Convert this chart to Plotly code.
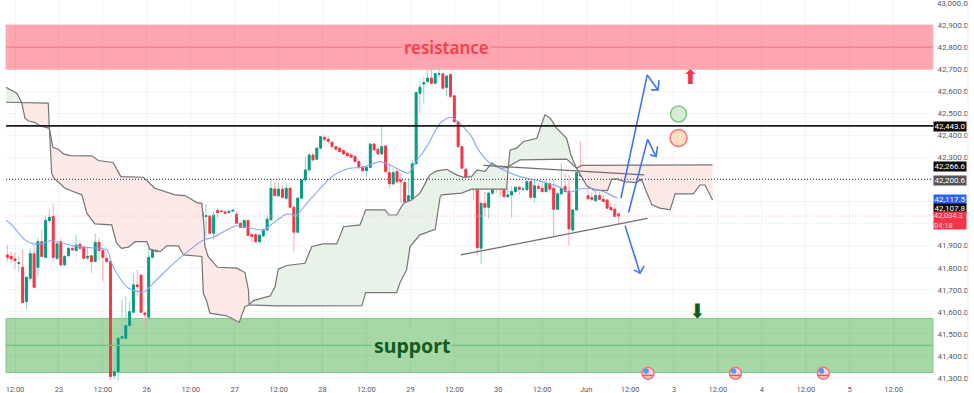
import plotly.graph_objects as go
import numpy as np

bar_index = list(range(-2, 159))
opens = [41858,41851,41840,41820,41802,41647,41752,41863,41802,41918,41847,42014,42032,41843,41918,41813,41854,41888,41878,41906,41893,41844,41854,41828,41915,41878,41843,
41828,41310,41329,41480,41480,41538,41598,41722,41767,41594,41576,41847,41888,41893,41937,41914,41964,41986,41941,42006,42062,42020,42020,42020,42050,42032,42035,41956,
42059,42057,42053,42050,42057,42042,42002,41983,42014,41950,41950,41918,41944,41971,42017,42157,42126,42156,42115,42160,42074,41961,42115,42198,42243,42311,42292,42342,
42390,42382,42369,42349,42342,42331,42319,42311,42304,42281,42255,42240,42255,42361,42337,42316,42352,42231,42180,42236,42198,42186,42104,42110,42271,42591,42633,42644,
42659,42636,42677,42679,42618,42676,42579,42462,42349,42246,42195,42180,42156,41888,42092,42074,42138,42195,42171,42156,42122,42130,42145,42165,42156,42153,42190,42119,
42168,42160,42145,42180,42160,42065,42135,42168,42148,41971,42062,42228,42221,42126,42118,42104,42127,42110,42107,42073,42065,42044]
highs = [41903,41873,41869,41851,41884,41757,41888,41903,41934,41971,42039,42062,42089,41918,41934,41858,41896,41899,41949,41918,41896,41896,41854,41956,41934,41885,41858,
41835,41427,41533,41654,41669,41647,41775,41790,41767,41598,41964,41934,41949,41949,41956,41971,41994,41994,42017,42077,42092,42055,42052,42060,42092,42089,42035,42055,
42070,42062,42059,42062,42065,42057,42005,42017,42017,41956,41956,41956,41979,42039,42206,42190,42190,42175,42186,42165,42080,42122,42201,42304,42319,42319,42346,42397,
42402,42397,42372,42352,42346,42334,42322,42319,42311,42286,42258,42261,42364,42364,42346,42440,42357,42274,42251,42251,42228,42198,42198,42289,42597,42644,42659,42700,
42704,42682,42712,42682,42674,42679,42582,42466,42352,42251,42221,42213,42160,42095,42145,42145,42277,42221,42198,42168,42160,42168,42168,42168,42168,42198,42198,42198,
42183,42183,42198,42201,42198,42141,42274,42228,42221,42062,42236,42372,42266,42168,42145,42150,42145,42130,42110,42092,42092,42050]
lows = [41828,41820,41793,41783,41642,41612,41737,41711,41760,41851,41847,42002,41828,41835,41805,41808,41851,41878,41873,41884,41835,41835,41775,41828,41835,41737,41820,
41291,41295,41291,41480,41480,41533,41594,41669,41594,41526,41576,41843,41866,41888,41911,41911,41956,41941,41918,42002,42014,42014,42014,42014,42017,41941,41953,41926,
42024,42050,42044,42044,42055,41999,41979,41979,41944,41918,41914,41914,41941,41968,42017,42122,42122,42115,42107,42070,41873,41961,42110,42190,42236,42281,42289,42337,
42372,42364,42346,42331,42322,42311,42304,42296,42277,42249,42236,42213,42255,42331,42311,42311,42228,42160,42175,42180,42092,42039,42062,42070,42271,42500,42546,42636,
42633,42633,42659,42606,42576,42568,42458,42345,42247,42145,42145,42107,41858,41817,42032,42024,42130,42138,42122,42119,42119,42029,42141,42130,42145,42150,42115,42095,
42153,42141,42141,42138,41941,42062,42130,42142,41899,41964,42059,42213,42190,42107,42100,42100,42107,42095,42067,42059,42027,41994]
closes = [41847,41840,41832,41823,41642,41757,41863,41711,41918,41851,42014,42029,41847,41908,41813,41851,41888,41881,41903,41888,41843,41851,41828,41915,41878,41847,41828,
41307,41329,41480,41488,41538,41601,41722,41714,41598,41586,41847,41881,41873,41934,41914,41964,41986,41944,42006,42065,42017,42050,42047,42050,42029,42035,41956,42038,
42050,42055,42047,42056,42060,42002,41983,42014,41946,41941,41918,41947,41971,42020,42160,42127,42156,42119,42160,42074,41961,42115,42198,42243,42311,42289,42342,42394,
42382,42372,42349,42337,42326,42316,42307,42301,42281,42254,42240,42255,42361,42334,42316,42349,42236,42180,42231,42190,42190,42100,42126,42271,42594,42618,42639,42659,
42636,42679,42679,42614,42669,42576,42462,42349,42251,42195,42180,42156,41891,42092,42074,42138,42203,42171,42156,42122,42130,42145,42165,42156,42157,42190,42119,42171,
42160,42145,42183,42156,42065,42135,42160,42145,41976,42062,42231,42216,42195,42113,42110,42127,42110,42100,42070,42062,42032,42034]

span_a_x = [-2.36,-0.44,0.44,1.75,2.6,3.5,5.2,6.5,9.0,9.6,10.2,13.1,17.5,18.8,20.9,25.3,26.6,27.9,29.7,31.4,34.5,35.3,38,39.7,42.8,44.1,48.9,49.3,50.2,51,55.4,58.7,60.2,61.3,62.4,66.8,68.1,68.9,71.1,75.9,77.7,80.7,84.2,86,90.3,91.8,96.9,97.9,99.9,101.7,103.8,106,107.3,108.6,110.4,113,115.6,117.4,119.5,120.9,123,124.8,127,129.1,129.6,131.3,133.1,136.6,138.7,140.1,141.8,144.4,145.5,147,149.7,151.4,155.1,156.2,157.5,159.7,162.6,164,164.9,166.7,168.8,171.5,172.8,177.6,179.3,180.6,182.6]
span_a_y = [42618,42598,42591,42549,42478,42465,42459,42444,42432,42228,42206,42160,42130,42047,41999,41994,41911,41888,41893,41918,41918,41884,41873,41899,41899,41858,41851,41684,41647,41594,41582,41553,41624,41631,41651,41672,41715,41793,41810,41820,41896,41908,41908,41986,41994,42062,42062,42039,42039,42092,42107,42138,42183,42221,42239,42246,42221,42210,42213,42243,42236,42274,42251,42255,42334,42342,42372,42387,42493,42478,42432,42387,42311,42251,42171,42153,42150,42201,42203,42190,42186,42201,42160,42085,42070,42062,42135,42135,42175,42175,42107]
span_b_x = [-2.36,1.75,8.7,9.0,9.9,11.3,12.7,14.4,20.1,21.8,25.7,27.7,33.6,36.6,39.3,41.9,44.5,47.6,48.9,49.5,49.7,50.6,53,58,60.2,61.1,61.3,68.9,90.8,91.8,99.9,100.8,102.5,103.4,106,110,111.3,111.7,116.9,119.5,128.7,129.1,132.2,144.4,147,148.3,182.6]
span_b_y = [42550,42549,42546,42432,42346,42337,42316,42308,42307,42286,42277,42213,42210,42160,42145,42130,42127,42095,42092,41986,41896,41850,41802,41798,41778,41699,41631,41627,41628,41687,41687,41733,41790,41896,41949,41974,42122,42130,42138,42156,42156,42258,42289,42292,42251,42264,42266]
cloud_breaks = [-2.36,1.75,61.3,147,182.6]
cloud_colors = ["#e8f2e8","#fde9e7","#e8f2e8","#fde9e7"]

ma_x = [-2.4,-0.4,1.3,2.6,4.8,7,9.2,11.8,15.3,19.6,24,25.3,26.6,29.7,33.6,34.9,38.8,44.1,49.3,51.9,55.4,58,61.5,65,67.6,71.1,73.7,76.4,82.5,85.1,87.7,90.3,92.9,95.5,99,103,104.7,107.8,111.3,113.9,116,119.5,121.3,124.3,127.8,132.2,136.6,141.8,145.3,147.5,150.5,154,157.7]
ma_y = [42017,41986,41949,41926,41908,41908,41922,41914,41900,41891,41881,41820,41775,41707,41689,41707,41775,41858,41926,41938,41971,41990,41979,41971,42002,42044,42039,42092,42206,42236,42251,42255,42266,42281,42258,42228,42274,42349,42455,42482,42462,42394,42334,42274,42243,42213,42195,42171,42142,42156,42160,42145,42115]

trend_low_x, trend_low_y = [116.7,165.6], [41858,42024]
trend_high_x, trend_high_y = [122.6,164.7], [42264,42221]
arrow1_x, arrow1_y = [158.6,165.5,168.3,None,166.5,168.3,168.6], [42115,42674,42606,None,42606,42606,42650]
arrow2_x, arrow2_y = [160.6,165.6,167.8,None,166.2,167.8,168.2], [42050,42382,42304,None,42312,42304,42350]
arrow3_x, arrow3_y = [159.7,163.6,None,162,163.6,164.7], [41990,41775,None,41790,41775,41808]

price_ticks = [42900,42800,42700,42600,42500,42400,42300,42200,42100,42000,41900,41800,41700,41600,41500,41400,41300]
price_labels = ["42,900.0","42,800.0","42,700.0","42,600.0","42,500.0","42,400.0","42,300.0","","","","41,900.0","41,800.0","41,700.0","41,600.0","41,500.0","41,400.0","41,300.0"]
price_top_tick = 43000
time_ticks = [0,11.5,23,34.5,46,57.5,69,80.5,92,103.5,115,126.5,138,149.5,161,172.5,184,195.5,207,218.5,230]
time_labels = ["12:00","23","12:00","26","12:00","27","12:00","28","12:00","29","12:00","30","12:00","Jun","12:00","3","12:00","4","12:00","5","12:00"]

resist_top, resist_mid, resist_bot = 42900, 42800, 42700
support_top, support_mid, support_bot = 41570, 41448, 41325
level_black, level_dotted, level_last = 42443, 42200.6, 42034.3
flag_x, flag_y = [165.7, 188.6, 211.6], [41322, 41322, 41322]
flag_blue_x, flag_blue_y = [165.2, 188.1, 211.1], [41332, 41332, 41332]
flag_stripe_y = [41312, 41312, 41312]

fig = go.Figure()
a_x, a_y, b_x, b_y = map(np.array, (span_a_x, span_a_y, span_b_x, span_b_y))
for lo, hi, col in zip(cloud_breaks[:-1], cloud_breaks[1:], cloud_colors):
    ma = (a_x >= lo) & (a_x <= hi)
    mb = (b_x >= lo) & (b_x <= hi)
    fig.add_trace(go.Scatter(x=np.r_[a_x[ma], b_x[mb][::-1]], y=np.r_[a_y[ma], b_y[mb][::-1]],
                             fill="toself", fillcolor=col, mode="none", hoverinfo="skip"))
for xs, ys in ((span_a_x, span_a_y), (span_b_x, span_b_y)):
    fig.add_trace(go.Scatter(x=xs, y=ys, mode="lines", line=dict(color="#757575", width=1.2)))
fig.add_trace(go.Scatter(x=ma_x, y=ma_y, mode="lines", line=dict(color="#86a8f5", width=1.1, shape="spline", smoothing=0.7)))
# wicks, pale
fig.add_trace(go.Candlestick(x=bar_index, open=opens, high=highs, low=lows, close=closes, whiskerwidth=0,
    increasing=dict(line=dict(color="#92d3c6", width=1), fillcolor="#089981"),
    decreasing=dict(line=dict(color="#f9a9af", width=1), fillcolor="#f23645")))
# solid bodies
body_top = np.maximum(opens, closes)
body_bot = np.minimum(opens, closes)
fig.add_trace(go.Candlestick(x=bar_index, open=opens, high=body_top, low=body_bot, close=closes, whiskerwidth=0,
    increasing=dict(line=dict(color="#089981", width=0.9), fillcolor="#089981"),
    decreasing=dict(line=dict(color="#f23645", width=0.9), fillcolor="#f23645")))
for xs, ys in ((trend_low_x, trend_low_y), (trend_high_x, trend_high_y)):
    fig.add_trace(go.Scatter(x=xs, y=ys, mode="lines", line=dict(color="#6e6e6e", width=1.2)))
for xs, ys in ((arrow1_x, arrow1_y), (arrow2_x, arrow2_y), (arrow3_x, arrow3_y)):
    fig.add_trace(go.Scatter(x=xs, y=ys, mode="lines", line=dict(color="#3f74f0", width=1.6)))
fig.add_trace(go.Scatter(x=[173.7], y=[42497], mode="markers", marker=dict(size=16, color="#d7ebd7", line=dict(color="#80c784", width=1.5))))
fig.add_trace(go.Scatter(x=[173.7], y=[42388], mode="markers", marker=dict(size=17, color="#fddfc4", line=dict(color="#f4707a", width=1.5))))
fig.add_trace(go.Scatter(x=flag_x, y=flag_y, mode="markers", marker=dict(size=12, color="#fbd3d5", line=dict(color="#f1767c", width=1.5))))
fig.add_trace(go.Scatter(x=flag_blue_x, y=flag_blue_y, mode="markers", marker=dict(size=5.5, color="#5b97ee")))
fig.add_trace(go.Scatter(x=flag_x, y=flag_stripe_y, mode="markers", marker=dict(size=8, symbol="line-ew", line=dict(color="#ee5a62", width=1.5))))

band = lambda y0, y1, c, ln: dict(type="rect", xref="paper", x0=0, x1=1, y0=y0, y1=y1, fillcolor=c, line=dict(color=ln, width=1), layer="below")
hline = lambda y, c, w, d="solid": dict(type="line", xref="paper", x0=0, x1=1, y0=y, y1=y, line=dict(color=c, width=w, dash=d))
shapes = [
    band(resist_bot, resist_top, "rgba(255,70,90,0.48)", "#ffb3b8"),
    band(support_bot, support_top, "rgba(76,175,80,0.5)", "#80c888"),
    hline(resist_mid, "#e8808a", 1.2), hline(support_mid, "#72c27c", 1.2),
    hline(level_black, "#1c1c1c", 1.8), hline(level_dotted, "#555555", 1.2, "1px,2px"),
    hline(level_last, "#fbb9bd", 1, "1px,2px"),
    dict(type="line", xref="paper", yref="paper", x0=1.0377, x1=1.0377, y0=0, y1=1, line=dict(color="#eceef1", width=1)),
]

ann = []
ann.append(dict(x=113, y=resist_mid, text="resistance", showarrow=False, bgcolor="#ffa3ac", borderpad=1,
                font=dict(family="Noto Sans", size=17, color="#f23f50", weight=600)))
ann.append(dict(x=104, y=support_mid, text="support", showarrow=False, bgcolor="#a5d7a7", borderpad=1,
                font=dict(family="Noto Sans", size=19.5, color="#0f5c20", weight=700)))
ann.append(dict(x=176.7, y=42665, text="⬆", showarrow=False, font=dict(family="DejaVu Sans", size=20, color="#f23645")))
ann.append(dict(x=178.7, y=41604, text="⬇", showarrow=False, font=dict(family="DejaVu Sans", size=20, color="#0c5c19")))
ann.append(dict(xref="paper", x=1, xshift=19, xanchor="center", y=price_top_tick, text=f"{price_top_tick:,.1f}", showarrow=False,
                font=dict(family="Roboto", size=8, color="#555b66")))

tag_values = [42443.0, 42266.6, 42200.6, 42117.5, 42107.8]
tag_colors = ["#0c0c0c", "#0c0c0c", "#555555", "#2962ff", "#0c0c0c"]
tag_shifts = [-1, -1.7, -1, -1.8, -8.2]
for v, c, s in zip(tag_values, tag_colors, tag_shifts):
    ann.append(dict(xref="paper", x=1, xshift=17, xanchor="center", y=v, yshift=s, text=f"{v:,.1f}", showarrow=False, bgcolor=c,
                    width=32, height=8.5, borderpad=0, font=dict(family="Roboto", size=8, color="#ffffff")))
ann.append(dict(xref="paper", x=1, xshift=17, xanchor="center", y=level_last, yshift=-4.5, text="42,034.3<br>04:18", showarrow=False, bgcolor="#f23645",
                width=32, height=17, borderpad=0, align="left", font=dict(family="Roboto", size=7.5, color="#ffd5d8")))

fig.update_layout(width=974, height=393, margin=dict(l=6, r=41, t=0, b=13, pad=0), autosize=False,
    paper_bgcolor="#ffffff", plot_bgcolor="#ffffff", showlegend=False, shapes=shapes, annotations=ann,
    hovermode=False,
    xaxis=dict(range=[-2.356, 240.3], tickvals=time_ticks, ticktext=time_labels, rangeslider=dict(visible=False),
               showgrid=True, gridcolor="rgba(40,60,90,0.05)", gridwidth=1, zeroline=False, showline=False, ticks="outside", ticklen=2, tickcolor="#ffffff",
               tickfont=dict(family="Roboto", size=7.5, color="#555b66")),
    yaxis=dict(range=[41291, 43013.6], side="right", tickvals=price_ticks, ticktext=price_labels,
               showgrid=True, gridcolor="rgba(40,60,90,0.05)", gridwidth=1, zeroline=False, showline=False, ticks="outside", ticklen=2,
               tickcolor="#ffffff", tickfont=dict(family="Roboto", size=8, color="#555b66")))
fig.write_html("out.html", config=dict(displayModeBar=False),
               post_script="document.body.style.margin='0';document.documentElement.style.overflow='hidden';")
